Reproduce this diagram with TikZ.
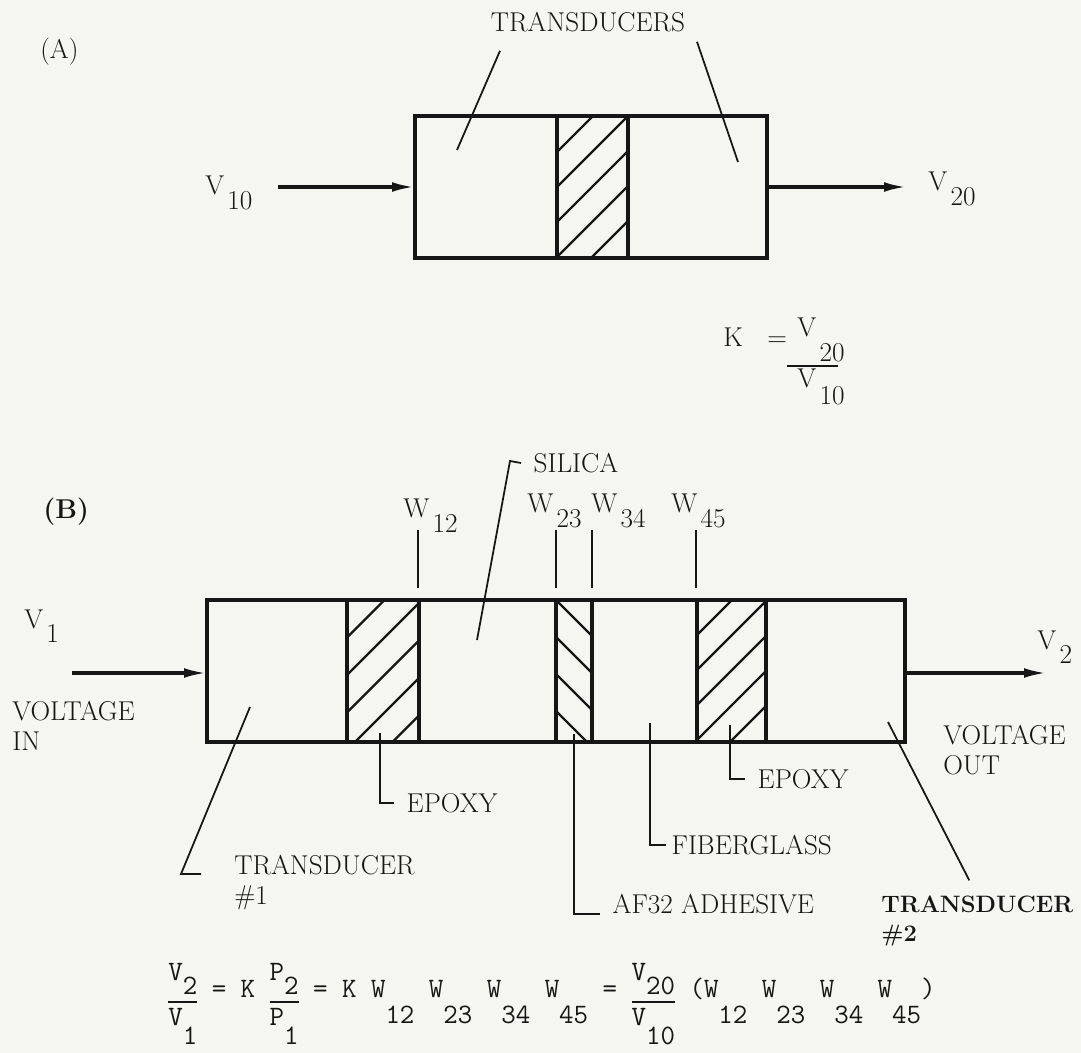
\documentclass[tikz,border=0pt]{standalone}
\usepackage{fontspec}
\usetikzlibrary{arrows.meta,calc}
\definecolor{paper}{RGB}{245,245,242}
\definecolor{ink}{RGB}{22,22,22}
\newcommand\lsub[2][0.55em]{\kern0.12em\raisebox{-#1}{#2}}
\newcommand\ts[2][0.94em]{\raisebox{-#1}{#2}}
\newcommand\Wk[1]{W\ts{#1}}
\newlength\fracw
\newcommand\tyfrac[2]{\settowidth\fracw{#1}\rlap{\raisebox{0.6em}{#1}}\rlap{\raisebox{-1.0em}{#2}}\rule[-0.22em]{\fracw}{1.1pt}}
\tikzset{lbl/.style={font=\fontsize{15.5}{17}\selectfont\addfontfeatures{FakeBold=2.5},inner sep=0pt,text=ink},
  lblb/.style={font=\fontsize{13.5}{16.5}\selectfont\bfseries,inner sep=0pt,text=ink},
  tag/.style={lbl,anchor=west,inner xsep=7pt},
  eqn/.style={font=\fontsize{16}{19}\selectfont\ttfamily\addfontfeatures{FakeStretch=0.905,FakeBold=2.5},inner sep=0pt,text=ink},
  wall/.style={draw=ink,line width=2.3pt},
  hatch/.style={draw=ink,line width=1.3pt},
  lead/.style={draw=ink,line width=1pt},
  sig/.style={draw=ink,line width=1.9pt,-{Latex[length=13pt,width=5.5pt]}}}
\begin{document}
\begin{tikzpicture}[x=0.02cm,y=-0.02cm]
\fill[paper] (0,0) rectangle (1081,1053);
\useasboundingbox (0,0) rectangle (1081,1053);

% (A) two transducers bonded together
\node[lbl,anchor=base west] (capA) at (40,59) {(A)};
\node[lbl,anchor=base] (tdrs) at (588,32) {TRANSDUCERS};
\begin{scope}
\clip (557,116) rectangle (628,258);
\foreach \y in {117,152,...,327} \draw[hatch] (557,\y) -- (628,\y-71);
\end{scope}
\draw[wall] (415,116) rectangle (767,258);
\draw[wall] (557,116) -- (557,258) (628,116) -- (628,258);
\coordinate (tdA1) at (457,150);
\coordinate (tdA2) at (738,162);
\draw[lead] ($(tdrs.south)+(-88,18)$) -- (tdA1);
\draw[lead] ($(tdrs.south)+(109,9)$) -- (tdA2);
\node[lbl,anchor=base west] (v10) at (205,195) {V\lsub{10}};
\node[lbl,anchor=base west] (v20) at (928,191) {V\lsub{20}};
\coordinate (inA0) at (278,187);
\coordinate (inA) at (415,187);
\coordinate (outA) at (767,187);
\coordinate (outA1) at (907,187);
\draw[sig] (inA0) -- (inA);
\draw[sig] (outA) -- (outA1);

% gain of the bare pair
\node[lbl,anchor=base west] (kA) at (723,347) {K\hspace{0.9em}=};
\node[lbl,anchor=base west] (kAn) at (797,337) {V\lsub[0.9em]{20}};
\node[lbl,anchor=base west] (kAd) at (797,388) {V\lsub[0.62em]{10}};
\draw[ink,line width=1.5pt] (787,366) -- (838,366);

% (B) stack with silica and fiberglass
\node[lblb,font=\fontsize{15.5}{17}\selectfont\bfseries,anchor=base west] (capB) at (43,519) {(B)};
\begin{scope}
\clip (347,600) rectangle (419,742);
\foreach \y in {600,637.5,...,826} \draw[hatch] (347,\y) -- (419,\y-72);
\end{scope}
\begin{scope}
\clip (556,600) rectangle (592,742);
\foreach \y in {600,637,674,711} \draw[hatch] (556,\y) -- (592,\y+36);
\end{scope}
\begin{scope}
\clip (697,600) rectangle (766,742);
\foreach \y in {600,635,...,811} \draw[hatch] (697,\y) -- (766,\y-69);
\end{scope}
\draw[wall] (207,600) rectangle (905,742);
\foreach \x in {347,419,556,592,697,766} \draw[wall] (\x,600) -- (\x,742);

\node[lbl,anchor=base west] (w12) at (403,518) {W\lsub{12}};
\node[lbl,anchor=base west] (w23) at (527,513) {W\lsub{23}};
\node[lbl,anchor=base west] (w34) at (591,513) {W\lsub{34}};
\node[lbl,anchor=base west] (w45) at (671,513) {W\lsub{45}};
\foreach \x in {418,556,592,696} \draw[lead] (\x,530) -- (\x,588);

\node[lbl,anchor=base west] (v1) at (24,628) {V\lsub{1}};
\node[lbl,anchor=base west] (v2) at (1037,649) {V\lsub{2}};
\node[lbl,anchor=north west,align=left] (vin) at (12,701) {VOLTAGE\\IN};
\node[lbl,anchor=north west,align=left] (vout) at (943,725) {VOLTAGE\\OUT};
\coordinate (inB0) at (72,673);
\coordinate (inB) at (207,673);
\coordinate (outB) at (905,673);
\coordinate (outB1) at (1047,673);
\draw[sig] (inB0) -- (inB);
\draw[sig] (outB) -- (outB1);

% layer call-outs
\node[tag] (silica) at (521,463) {SILICA};
\coordinate (cSil) at (477,640);
\coordinate (kSil) at (510,461);
\draw[lead] (cSil) -- (kSil) -- (silica.west);

\node[tag] (ep1) at (394,803) {EPOXY};
\coordinate (cEp1) at (380,733);
\draw[lead] (cEp1) |- (ep1.west);

\node[tag] (ep2) at (745,779) {EPOXY};
\coordinate (cEp2) at (730,725);
\draw[lead] (cEp2) |- (ep2.west);

\node[tag,inner xsep=3pt] (fib) at (666,845) {FIBERGLASS};
\coordinate (cFib) at (650,723);
\draw[lead] (cFib) |- (fib.west);

\node[tag] (af32) at (600,904) {AF32 ADHESIVE};
\coordinate (cAf) at (574,734);
\draw[lead] (cAf) |- (af32.south west);

\node[lbl,anchor=north west,align=left] (tr1) at (234,855) {TRANSDUCER\\\#1};
\coordinate (cT1) at (250,707);
\coordinate (kT1) at (181,874);
\draw[lead] (cT1) -- (kT1) -- ($(kT1 -| tr1.west)+(-33,0)$);

\node[lblb,anchor=north west,align=left] (tr2) at (881,896) {TRANSDUCER\\\#2};
\coordinate (cT2) at (888,722);
\draw[lead,shorten >=10pt] (cT2) -- (tr2.north);

% overall transfer
\node[eqn,anchor=base west] (eqB) at (168,997) {\tyfrac{V\ts[.5em]{2}}{V\ts[.7em]{1}} = K \tyfrac{P\ts[.5em]{2}}{P\ts[.7em]{1}} = K \Wk{12} \Wk{23} \Wk{34} \Wk{45} = \tyfrac{V\ts[.5em]{20}}{V\ts[.7em]{10}} (\Wk{12} \Wk{23} \Wk{34} \Wk{45})};
\end{tikzpicture}
\end{document}
